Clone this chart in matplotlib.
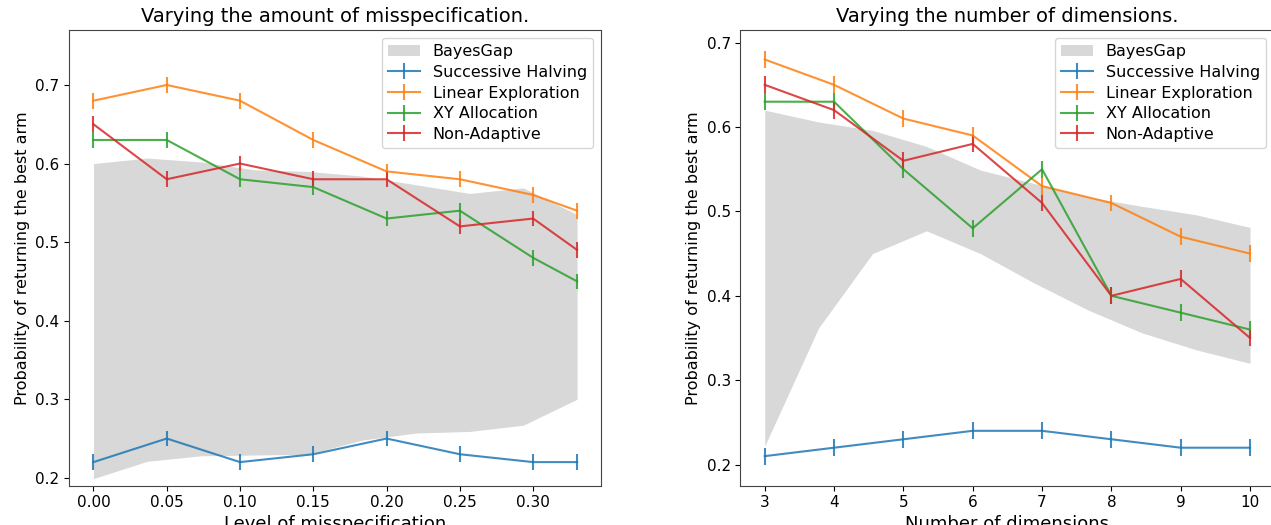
import matplotlib
matplotlib.use("Agg")
import matplotlib.pyplot as plt
import numpy as np

# left panel: misspecification
MIS_X = [0.0, 0.05, 0.10, 0.15, 0.20, 0.25, 0.30, 0.33]
MIS_BAND_X = np.linspace(0.0, 0.33, 10)
MIS_BAND_LOW = [0.199, 0.221, 0.228, 0.229, 0.230, 0.248, 0.257, 0.259, 0.267, 0.300]
MIS_BAND_HIGH = [0.600, 0.607, 0.602, 0.592, 0.590, 0.584, 0.573, 0.562, 0.569, 0.535]
MIS_SH = [0.22, 0.25, 0.22, 0.23, 0.25, 0.23, 0.22, 0.22]
MIS_LE = [0.68, 0.70, 0.68, 0.63, 0.59, 0.58, 0.56, 0.54]
MIS_XY = [0.63, 0.63, 0.58, 0.57, 0.53, 0.54, 0.48, 0.45]
MIS_NA = [0.65, 0.58, 0.60, 0.58, 0.58, 0.52, 0.53, 0.49]

# right panel: dimensions
DIM_X = [3, 4, 5, 6, 7, 8, 9, 10]
DIM_BAND_X = np.linspace(3, 10, 10)
DIM_BAND_LOW = [0.222, 0.362, 0.450, 0.477, 0.450, 0.415, 0.383, 0.356, 0.336, 0.320]
DIM_BAND_HIGH = [0.620, 0.606, 0.596, 0.577, 0.549, 0.533, 0.517, 0.506, 0.496, 0.481]
DIM_SH = [0.21, 0.22, 0.23, 0.24, 0.24, 0.23, 0.22, 0.22]
DIM_LE = [0.68, 0.65, 0.61, 0.59, 0.53, 0.51, 0.47, 0.45]
DIM_XY = [0.63, 0.63, 0.55, 0.48, 0.55, 0.40, 0.38, 0.36]
DIM_NA = [0.65, 0.62, 0.56, 0.58, 0.51, 0.40, 0.42, 0.35]

ERR = 0.01
LABELS = ["Successive Halving", "Linear Exploration", "XY Allocation", "Non-Adaptive"]


def draw_panel(ax, x, band_x, low, high, series, title, xlabel):
    ax.fill_between(band_x, low, high, color="grey", alpha=0.3, linewidth=0, label="BayesGap")
    for values, label in zip(series, LABELS):
        ax.errorbar(x, values, yerr=ERR, label=label, linewidth=1.5, alpha=0.85)
    ax.set_title(title, fontsize=14)
    ax.set_xlabel(xlabel, fontsize=13, labelpad=3)
    ax.set_ylabel("Probability of returning the best arm", fontsize=11.5)
    ax.tick_params(labelsize=11)
    ax.legend(loc="upper right", fontsize=11.5, labelspacing=0.35)
    for spine in ax.spines.values():
        spine.set_edgecolor("#444444")


fig = plt.figure(figsize=(12.71, 5.25), dpi=100)
ax_left = fig.add_axes([0.0545, 0.0749, 0.4186, 0.868])
ax_right = fig.add_axes([0.5826, 0.0749, 0.42, 0.868])

draw_panel(ax_left, MIS_X, MIS_BAND_X, MIS_BAND_LOW, MIS_BAND_HIGH,
           [MIS_SH, MIS_LE, MIS_XY, MIS_NA],
           "Varying the amount of misspecification.", "Level of misspecification")
ax_left.set_ylim(0.19, 0.77)

draw_panel(ax_right, DIM_X, DIM_BAND_X, DIM_BAND_LOW, DIM_BAND_HIGH,
           [DIM_SH, DIM_LE, DIM_XY, DIM_NA],
           "Varying the number of dimensions.", "Number of dimensions")
ax_right.set_ylim(0.175, 0.715)

fig.savefig("out.png", dpi=100)
